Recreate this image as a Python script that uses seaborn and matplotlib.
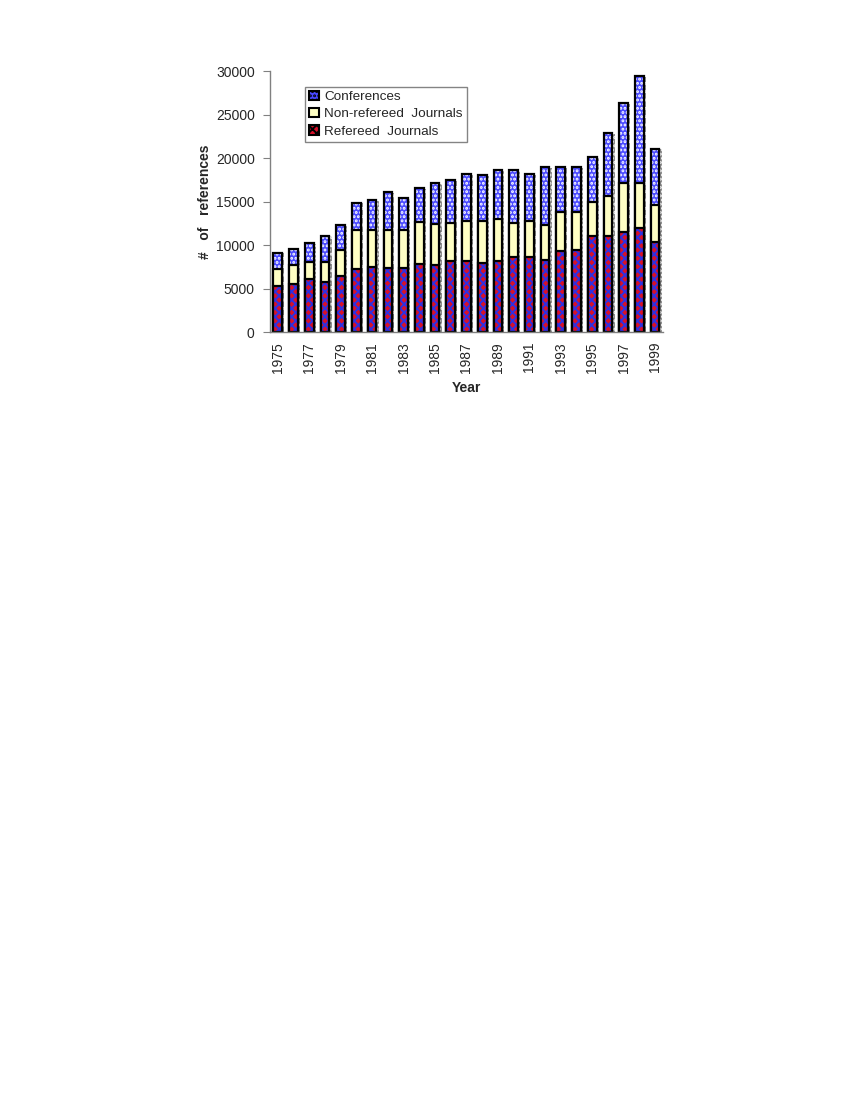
import numpy as np
import pandas as pd
import seaborn as sns
import matplotlib.pyplot as plt
from matplotlib.patches import Patch, Rectangle
import matplotlib.patheffects as pe

# --- data ---
years = [str(y) for y in range(1975, 2000)]
refereed = [5300, 5500, 6100, 5800, 6450, 7250, 7550, 7400, 7400, 7800, 7700, 8200, 8200,
            8000, 8200, 8600, 8600, 8300, 9300, 9450, 11070, 11070, 11500, 12000, 10400]
non_refereed = [2000, 2200, 2000, 2300, 3050, 4500, 4200, 4350, 4350, 4900, 4700, 4350, 4550,
                4750, 4850, 3900, 4150, 4000, 4500, 4350, 3930, 4580, 5700, 5200, 4200]
conferences = [1850, 1900, 2150, 3000, 2800, 3150, 3450, 4400, 3650, 3900, 4700, 4900, 5450,
               5300, 5550, 6100, 5450, 6700, 5200, 5200, 5100, 7250, 9100, 12200, 6500]

df = pd.DataFrame({'Year': years, 'Refereed': refereed,
                   'NonRefereed': non_refereed, 'Conferences': conferences})
df['Journals'] = df['Refereed'] + df['NonRefereed']
df['Total'] = df['Journals'] + df['Conferences']

sns.set_style('white')
plt.rcParams['font.family'] = ['Liberation Sans', 'DejaVu Sans']
plt.rcParams['hatch.linewidth'] = 1.4

fig = plt.figure(figsize=(8.5, 11), dpi=100)
ax = fig.add_axes([0.3176, 0.698, 0.4624, 0.2373])

# layers drawn back to front: (column, face colour, hatch colour, hatch)
layers = [
    ('Total', '#4a4aff', 'white', '....'),
    ('Journals', '#ffffc4', '#ffffc4', None),
    ('Refereed', '#d8102a', '#3030e0', 'xxxx'),
]

for k, (col, face, hcol, hatch) in enumerate(layers):
    before = len(ax.patches)
    sns.barplot(data=df, x='Year', y=col, color=face, width=0.55,
                saturation=1, ax=ax, errorbar=None)
    bars = list(ax.patches[before:])
    for p in bars:
        p.set_facecolor(face)
        p.set_edgecolor(hcol)
        p.set_linewidth(0)
        if hatch:
            p.set_hatch(hatch)
        if k == 0:
            # grey drop shadow on the right like the original
            p.set_path_effects([pe.SimplePatchShadow(offset=(1.6, -0.6),
                                                     shadow_rgbFace='0.55', alpha=1),
                                pe.Normal()])
    # black outline on top of each hatched bar
    for p in bars:
        ax.add_patch(Rectangle(p.get_xy(), p.get_width(), p.get_height(), fill=False,
                               edgecolor='black', linewidth=1.6, zorder=p.get_zorder()))

ax.set_xlim(-0.5, len(years) - 0.5)
ax.set_ylim(0, 30000)
ax.set_yticks(range(0, 30001, 5000))
ax.set_yticklabels([str(v) for v in range(0, 30001, 5000)], fontsize=10)

ax.set_xticks(range(0, len(years), 2))
ax.set_xticklabels(years[::2], rotation=90, fontsize=10)
ax.set_xticks(np.arange(-0.5, len(years), 1), minor=True)
ax.tick_params(axis='x', which='major', length=0, pad=7)
ax.tick_params(axis='x', which='minor', length=4, color='0.5', direction='out')
ax.tick_params(axis='y', length=5, color='0.5', direction='out', left=True, pad=6)

for s in ['top', 'right']:
    ax.spines[s].set_visible(False)
for s in ['left', 'bottom']:
    ax.spines[s].set_color('0.5')
    ax.spines[s].set_linewidth(1)

ax.set_ylabel('#   of   references', fontsize=10, fontweight='bold', labelpad=3)
ax.set_xlabel('Year', fontsize=10, fontweight='bold', labelpad=6)

handles = [
    Patch(facecolor='#4a4aff', edgecolor='white', hatch='....', label='Conferences'),
    Patch(facecolor='#ffffc4', edgecolor='#ffffc4', label='Non-refereed  Journals'),
    Patch(facecolor='#d8102a', edgecolor='#3030e0', hatch='xxxx', label='Refereed  Journals'),
]
leg = ax.legend(handles=handles, loc='upper left', bbox_to_anchor=(0.09, 0.94),
                fontsize=9.7, frameon=True, fancybox=False, handlelength=0.7,
                handleheight=0.7, handletextpad=0.4, borderpad=0.3, labelspacing=0.35,
                borderaxespad=0)
leg.get_frame().set_edgecolor('0.4')
leg.get_frame().set_linewidth(1)
for h in leg.legend_handles:
    h.set_linewidth(1.5)
    h.set_edgecolor('black')

fig.savefig('out.png', dpi=100)
